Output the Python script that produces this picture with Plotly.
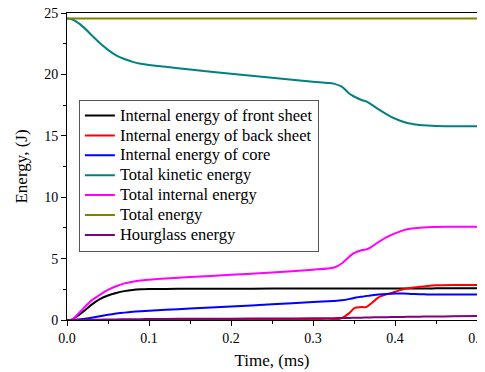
import plotly.graph_objects as go

time = [0.0, 0.005, 0.01, 0.02, 0.03, 0.04, 0.05, 0.06, 0.07, 0.08, 0.09, 0.10, 0.12, 0.15, 0.20, 0.25, 0.30, 0.325, 0.335, 0.345, 0.35, 0.36, 0.365, 0.37, 0.38, 0.39, 0.40, 0.41, 0.42, 0.43, 0.44, 0.45, 0.47, 0.50]

front_sheet = [0.0, 0.0, 0.2, 0.7, 1.25, 1.7, 2.0, 2.2, 2.35, 2.45, 2.5, 2.52, 2.53, 2.54, 2.55, 2.56, 2.57, 2.57, 2.57, 2.57, 2.57, 2.57, 2.57, 2.57, 2.57, 2.57, 2.57, 2.57, 2.57, 2.57, 2.57, 2.58, 2.58, 2.58]
back_sheet = [0.0, 0.0, 0.0, 0.0, 0.0, 0.0, 0.0, 0.0, 0.0, 0.0, 0.0, 0.0, 0.0, 0.0, 0.0, 0.0, 0.0, 0.0, 0.15, 0.6, 0.95, 1.05, 1.05, 1.3, 1.85, 2.1, 2.3, 2.5, 2.62, 2.7, 2.77, 2.82, 2.85, 2.85]
core = [0.0, 0.0, 0.02, 0.08, 0.18, 0.3, 0.42, 0.52, 0.6, 0.67, 0.72, 0.76, 0.83, 0.93, 1.1, 1.28, 1.46, 1.55, 1.6, 1.72, 1.8, 1.9, 1.95, 2.0, 2.07, 2.12, 2.15, 2.15, 2.12, 2.1, 2.08, 2.07, 2.07, 2.07]
kinetic = [24.55, 24.5, 24.35, 23.85, 23.2, 22.55, 22.0, 21.55, 21.25, 21.02, 20.87, 20.77, 20.62, 20.4, 20.05, 19.72, 19.4, 19.25, 19.0, 18.4, 18.2, 17.9, 17.8, 17.6, 17.15, 16.75, 16.4, 16.15, 15.98, 15.88, 15.83, 15.8, 15.78, 15.78]
total_internal = [0.0, 0.0, 0.25, 0.95, 1.6, 2.05, 2.45, 2.75, 2.98, 3.12, 3.22, 3.28, 3.38, 3.5, 3.68, 3.87, 4.1, 4.25, 4.6, 5.2, 5.45, 5.7, 5.75, 5.9, 6.35, 6.75, 7.05, 7.3, 7.45, 7.52, 7.56, 7.58, 7.6, 7.6]
total_energy = [24.55] * len(time)
hourglass = [0.0, 0.0, 0.0, 0.01, 0.02, 0.03, 0.04, 0.05, 0.06, 0.07, 0.07, 0.08, 0.09, 0.1, 0.11, 0.12, 0.14, 0.15, 0.16, 0.17, 0.18, 0.19, 0.2, 0.21, 0.22, 0.23, 0.24, 0.25, 0.26, 0.27, 0.28, 0.29, 0.3, 0.32]

series = [
    ("Internal energy of front sheet", front_sheet, "#000000"),
    ("Internal energy of back sheet", back_sheet, "#ff0000"),
    ("Internal energy of core", core, "#0000ff"),
    ("Total kinetic energy", kinetic, "#008080"),
    ("Total internal energy", total_internal, "#ff00ff"),
    ("Total energy", total_energy, "#808000"),
    ("Hourglass energy", hourglass, "#800080"),
]

x_ticks = [0.0, 0.1, 0.2, 0.3, 0.4, 0.5]
x_tick_labels = ["0.0", "0.1", "0.2", "0.3", "0.4", "0.5"]
y_ticks = [0, 5, 10, 15, 20, 25]

fig = go.Figure()
for name, vals, color in series:
    fig.add_trace(go.Scatter(
        x=time, y=vals, mode="lines",
        name='<span style="font-size:16.5px">' + name + '</span>',
        line=dict(color=color, width=2, shape="spline", smoothing=0.6)))

font_family = "Liberation Serif, Times New Roman, serif"
fig.update_layout(
    width=477, height=364,
    margin=dict(l=59, r=8, t=5, b=52),
    paper_bgcolor="white", plot_bgcolor="white",
    font=dict(family=font_family, size=14, color="black"),
    showlegend=True,
    legend=dict(x=0.029, y=0.718, xanchor="left", yanchor="top",
                bgcolor="white", bordercolor="#555555", borderwidth=1,
                font=dict(family=font_family, size=13, color="black"),
                tracegroupgap=0, itemwidth=30),
)
fig.update_xaxes(range=[0, 0.5], tickvals=x_ticks, ticktext=x_tick_labels,
                 automargin=False, ticklabeloverflow="allow",
                 showgrid=False, zeroline=False,
                 showline=True, linecolor="black", linewidth=1, mirror=True,
                 ticks="outside", ticklen=5, tickcolor="black",
                 minor=dict(dtick=0.05, ticks="outside", ticklen=3, tickcolor="black"),
                 title=dict(text="Time, (ms)", font=dict(size=17), standoff=9))
fig.update_yaxes(range=[0, 25], tickvals=y_ticks,
                 automargin=False, ticklabeloverflow="allow",
                 showgrid=False, zeroline=False,
                 showline=True, linecolor="black", linewidth=1, mirror=True,
                 ticks="outside", ticklen=5, tickcolor="black",
                 minor=dict(dtick=2.5, ticks="outside", ticklen=3, tickcolor="black"),
                 title=dict(text="Energy, (J)", font=dict(size=17), standoff=12))

fig.write_html("out.html")
